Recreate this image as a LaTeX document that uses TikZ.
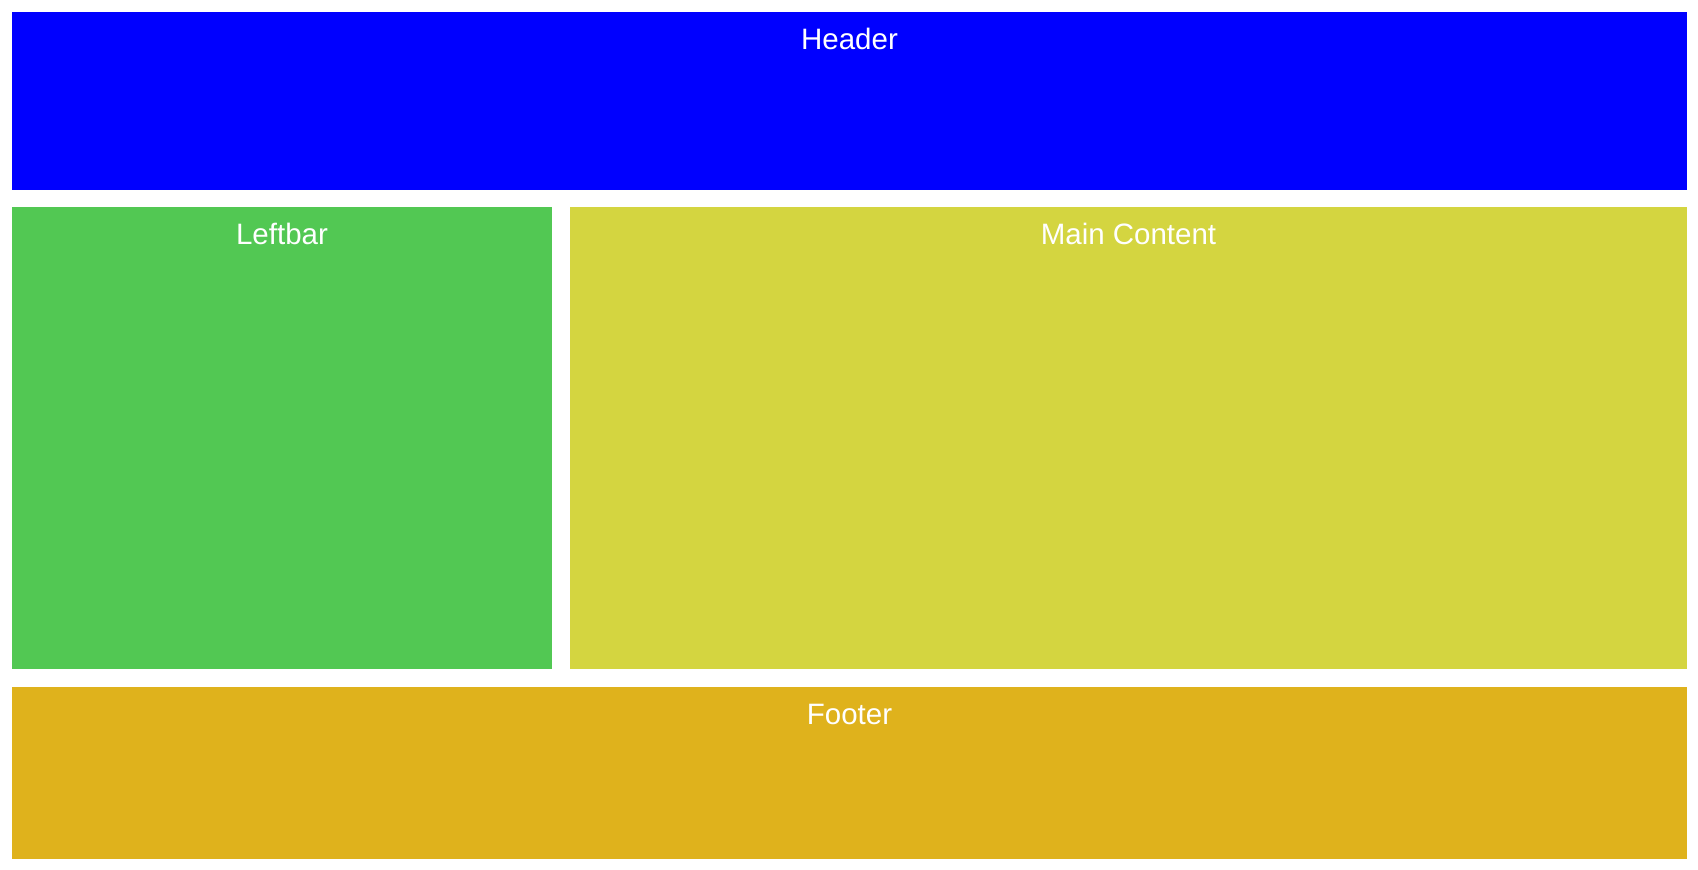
\documentclass[tikz,border=0pt]{standalone}
\usepackage{fontspec}
\setsansfont{Liberation Sans}
\usepackage{xcolor}
\usetikzlibrary{positioning}
\definecolor{headblue}{HTML}{0000FF}
\definecolor{leftgreen}{HTML}{52C853}
\definecolor{mainlime}{HTML}{D4D540}
\definecolor{footamber}{HTML}{DFB21C}

\begin{document}
\begin{tikzpicture}[
  area/.style={draw=none,inner sep=0pt,outer sep=0pt},
  title/.style={anchor=center,yshift=-27pt,text=white,font=\sffamily\fontsize{29.5}{34}\selectfont}]
  \useasboundingbox (0,0) rectangle (1698pt,-870pt);
  \node[area,fill=headblue,anchor=north west,minimum width=1675pt,minimum height=178pt,
    label={[title]north:Header}] (header) at (12pt,-12pt) {};
  \node[area,fill=leftgreen,minimum width=540pt,minimum height=462pt,
    below right=17pt and 0pt of header.south west,label={[title]north:Leftbar}] (leftbar) {};
  \node[area,fill=mainlime,minimum width=1117pt,minimum height=462pt,
    right=18pt of leftbar,label={[title]north:Main Content}] (main) {};
  \node[area,fill=footamber,minimum width=1675pt,minimum height=172pt,
    below right=18pt and 0pt of leftbar.south west,label={[title]north:Footer}] (footer) {};
\end{tikzpicture}
\end{document}
